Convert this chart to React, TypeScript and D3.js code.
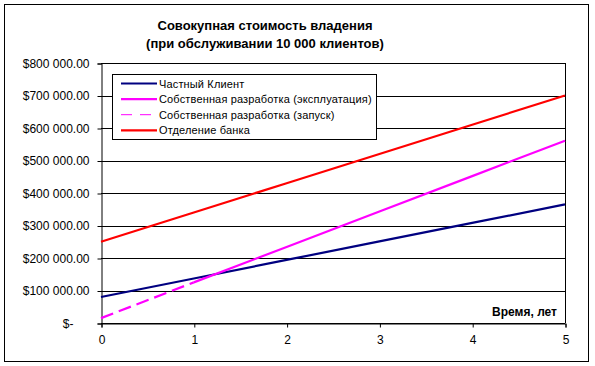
import React, { useEffect, useRef } from "react";
import * as d3 from "d3";

// годы
const years = [0, 1, 2, 3, 4, 5];

// значения по сериям
const privateClient = [80000, 137000, 194000, 251000, 308000, 365000];
const ownDevLaunchYears = [0, 1];
const ownDevLaunch = [15000, 125000];
const ownDevOpsYears = [1, 2, 3, 4, 5];
const ownDevOps = [125000, 234000, 343000, 452000, 561000];
const bankBranch = [250000, 340000, 430000, 520000, 610000, 700000];

const yTicks = [0, 100000, 200000, 300000, 400000, 500000, 600000, 700000, 800000];

const legendItems = [
  { name: "Частный Клиент", color: "#000080", dash: null, w: 2.2 },
  { name: "Собственная разработка (эксплуатация)", color: "#ff00ff", dash: null, w: 2.2 },
  { name: "Собственная разработка (запуск)", color: "#ff00ff", dash: "11,8", w: 1 },
  { name: "Отделение банка", color: "#ff0000", dash: null, w: 2.2 },
];

const App = () => {
  const ref = useRef<SVGSVGElement>(null);

  useEffect(() => {
    const svg = d3.select(ref.current);
    svg.selectAll("*").remove();

    const width = 595;
    const height = 366;
    const margin = { top: 63, right: 30, bottom: 43, left: 101 };
    const boundedWidth = 565 - margin.left;
    const boundedHeight = 323 - margin.top;

    svg.append("rect")
      .attr("width", width)
      .attr("height", height)
      .attr("fill", "#fff");

    // рамка
    svg.append("rect")
      .attr("x", 4.5)
      .attr("y", 4.5)
      .attr("width", 584)
      .attr("height", 357)
      .attr("fill", "none")
      .attr("stroke", "#000")
      .attr("stroke-width", 1);

    // заголовок
    const title = svg.append("text")
      .attr("x", 265)
      .attr("text-anchor", "middle")
      .style("font-family", "'Liberation Sans', Arial, sans-serif")
      .style("font-weight", "bold")
      .style("font-size", "13px");
    title.append("tspan").attr("x", 265).attr("y", 30).text("Совокупная стоимость владения");
    title.append("tspan").attr("x", 265).attr("y", 48).text("(при обслуживании 10 000 клиентов)");

    const bounds = svg.append("g")
      .attr("transform", `translate(${margin.left}, ${margin.top})`);

    const xScale = d3.scaleLinear().domain([0, 5]).range([0, boundedWidth]);
    const yScale = d3.scaleLinear().domain([0, 800000]).range([boundedHeight, 0]);

    // сетка
    bounds.append("g")
      .selectAll("line")
      .data(yTicks)
      .join("line")
      .attr("x1", 0)
      .attr("x2", boundedWidth)
      .attr("y1", (d) => Math.round(yScale(d)) + 0.5)
      .attr("y2", (d) => Math.round(yScale(d)) + 0.5)
      .attr("stroke", "#000")
      .attr("stroke-width", 1);

    bounds.append("line")
      .attr("x1", boundedWidth + 0.5)
      .attr("x2", boundedWidth + 0.5)
      .attr("y1", 0)
      .attr("y2", boundedHeight)
      .attr("stroke", "#000");

    const fmt = (d: number) => (d === 0 ? "$-" : "$" + d3.format(",.2f")(d).replace(/,/g, " "));

    const yAxis = bounds.append("g")
      .attr("transform", "translate(0.5, 0.5)")
      .call(d3.axisLeft(yScale).tickValues(yTicks).tickFormat(fmt as any).tickSize(4).tickPadding(8));
    yAxis.select(".domain").attr("stroke", "#000");
    yAxis.selectAll("text")
      .style("font-family", "'Liberation Sans', Arial, sans-serif")
      .style("font-size", "12px")
      .attr("fill", "#000")
      .attr("dx", (d: any) => (d === 0 ? "-16" : "0"));

    const xAxis = bounds.append("g")
      .attr("transform", `translate(0.5, ${boundedHeight + 0.5})`)
      .call(d3.axisBottom(xScale).tickValues(years).tickFormat(d3.format("d") as any).tickSize(4).tickPadding(8));
    xAxis.select(".domain").attr("stroke", "#000");
    xAxis.selectAll("text")
      .style("font-family", "'Liberation Sans', Arial, sans-serif")
      .style("font-size", "12px")
      .attr("fill", "#000");

    const line = d3.line<[number, number]>()
      .x((d) => xScale(d[0]))
      .y((d) => yScale(d[1]));

    const series = [
      { pts: years.map((y, i) => [y, privateClient[i]]), color: "#000080", dash: null },
      { pts: ownDevOpsYears.map((y, i) => [y, ownDevOps[i]]), color: "#ff00ff", dash: null },
      { pts: ownDevLaunchYears.map((y, i) => [y, ownDevLaunch[i]]), color: "#ff00ff", dash: "13,6" },
      { pts: years.map((y, i) => [y, bankBranch[i]]), color: "#ff0000", dash: null },
    ];

    series.forEach((s) => {
      bounds.append("path")
        .attr("d", line(s.pts as [number, number][]))
        .attr("fill", "none")
        .attr("stroke", s.color)
        .attr("stroke-width", 2.2)
        .attr("stroke-dasharray", s.dash);
    });

    bounds.append("text")
      .attr("x", boundedWidth - 8)
      .attr("y", boundedHeight - 7)
      .attr("text-anchor", "end")
      .style("font-family", "'Liberation Sans', Arial, sans-serif")
      .style("font-weight", "bold")
      .style("font-size", "12px")
      .text("Время, лет");

    // легенда
    const legend = svg.append("g").attr("transform", "translate(112, 74)");
    legend.append("rect")
      .attr("x", 0.5)
      .attr("y", 0.5)
      .attr("width", 264)
      .attr("height", 65)
      .attr("fill", "#fff")
      .attr("stroke", "#000");

    const rows = legend.selectAll("g.item")
      .data(legendItems)
      .join("g")
      .attr("class", "item")
      .attr("transform", (d, i) => `translate(0, ${9.5 + i * 15.6})`);

    rows.append("line")
      .attr("x1", 9)
      .attr("x2", 45)
      .attr("y1", 0)
      .attr("y2", 0)
      .attr("stroke", (d) => d.color)
      .attr("stroke-width", (d) => d.w)
      .attr("stroke-dasharray", (d) => d.dash);

    rows.append("text")
      .attr("x", 47)
      .attr("y", 4)
      .style("font-family", "'Liberation Sans', Arial, sans-serif")
      .style("font-size", "11px")
      .style("letter-spacing", "0.15px")
      .text((d) => d.name);
  }, []);

  return (
    <svg
      ref={ref}
      width={595}
      height={366}
      style={{ position: "absolute", left: 0, top: 0 }}
    />
  );
};

export default App;
